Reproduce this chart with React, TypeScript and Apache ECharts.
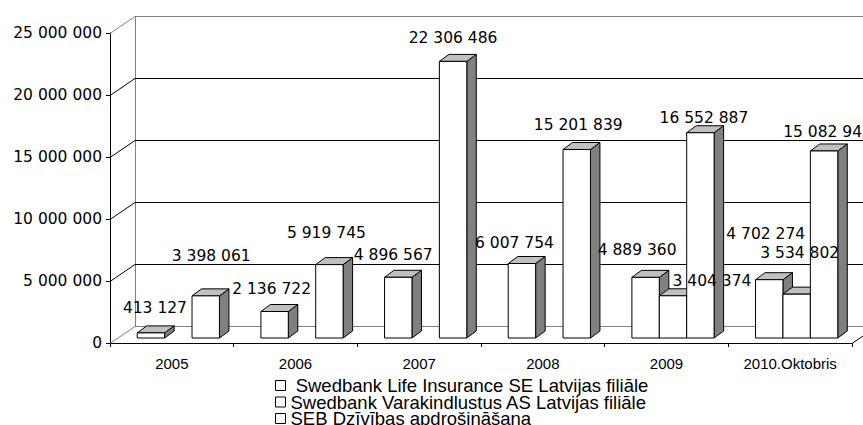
import React, { useEffect, useRef } from 'react';
import * as echarts from 'echarts';

const categories = ['2005', '2006', '2007', '2008', '2009', '2010.Oktobris'];
const seriesNames = [
  ' Swedbank Life Insurance SE Latvijas filiāle',
  'Swedbank Varakindlustus AS Latvijas filiāle',
  'SEB Dzīvības apdrošināšana',
];
const swedbankLife: (number | null)[] = [413127, 2136722, 4896567, 6007754, 4889360, 4702274];
const swedbankVara: (number | null)[] = [null, null, null, null, 3404374, 3534802];
const sebDzivibas: (number | null)[] = [3398061, 5919745, 22306486, 15201839, 16552887, 15082942];
const yTicks = [0, 5000000, 10000000, 15000000, 20000000, 25000000];

// label nudges (px) relative to bar front centre / top, per series and category
const nudgeLife = [[4, -25], [-3, -22.5], [-5, -22], [-7.5, -20.5], [-8.5, -27], [-3.5, -46]];
const nudgeVara = [null, null, null, null, [39, -15], [3, -41]];
const nudgeSeb = [[5.5, -40], [-3, -31.6], [0, -23], [1.5, -24.5], [3.5, -14.4], [3.5, -19.3]];

const allValues = [swedbankLife, swedbankVara, sebDzivibas];
const allNudges = [nudgeLife, nudgeVara, nudgeSeb];

// 3D geometry
const WALL_DX = 25;
const WALL_DY = -17;
const SHIFT_X = 6.5;
const SHIFT_Y = -5;
const DEPTH_X = 9.5;
const DEPTH_Y = -7;
const BAR_FRAC = 0.2216;
const Y_MAX = 25000000;

const fmt = (v: number) => String(v).replace(/\B(?=(\d{3})+(?!\d))/g, ' ');

function barGeom(api: any, i: number, v: number, slot: number) {
  const base = api.coord([i, 0]);
  const top = api.coord([i, v]);
  const band = api.size([1, 0])[0];
  const bw = band * BAR_FRAC;
  const x0 = base[0] - 1.5 * bw + slot * bw + SHIFT_X;
  const x1 = x0 + bw;
  const yB = base[1] + SHIFT_Y;
  const yT = top[1] + SHIFT_Y;
  return { x0, x1, yB, yT, bw };
}

function makeBarRender(slot: number) {
  return (params: any, api: any) => {
    const v = api.value(1);
    if (v == null || isNaN(v)) return null;
    const i = api.value(0);
    const { x0, x1, yB, yT, bw } = barGeom(api, i, v, slot);
    const dx = DEPTH_X;
    const dy = DEPTH_Y;
    return {
      type: 'group',
      children: [
        {
          type: 'polygon',
          shape: { points: [[x1, yB], [x1 + dx, yB + dy], [x1 + dx, yT + dy], [x1, yT]] },
          style: { fill: '#808080', stroke: '#000', lineWidth: 1 },
        },
        {
          type: 'polygon',
          shape: { points: [[x0, yT], [x0 + dx, yT + dy], [x1 + dx, yT + dy], [x1, yT]] },
          style: { fill: '#c0c0c0', stroke: '#000', lineWidth: 1 },
        },
        {
          type: 'rect',
          shape: { x: x0, y: yT, width: bw, height: yB - yT },
          style: { fill: '#fff', stroke: '#000', lineWidth: 1 },
        },
      ],
    };
  };
}

function wallRender(params: any, api: any) {
  const cs = params.coordSys;
  const x0 = cs.x;
  const x1 = cs.x + cs.width;
  const v = api.value(1);
  const y = Math.round(api.coord([0, v])[1]) + 0.5;
  const yTop = Math.round(api.coord([0, Y_MAX])[1]) + 0.5;
  const edge = v === 0 || v === Y_MAX;
  const col = edge ? '#808080' : '#000';
  const children: any[] = [
    { type: 'line', shape: { x1: x0, y1: y, x2: x0 + WALL_DX, y2: y + WALL_DY }, style: { stroke: col, lineWidth: 1 } },
    { type: 'line', shape: { x1: x0 + WALL_DX, y1: y + WALL_DY, x2: x1 + WALL_DX, y2: y + WALL_DY }, style: { stroke: col, lineWidth: 1 } },
  ];
  if (v === 0) {
    children.push({
      type: 'line',
      shape: { x1: x0 + WALL_DX + 0.5, y1: y + WALL_DY, x2: x0 + WALL_DX + 0.5, y2: yTop + WALL_DY },
      style: { stroke: '#808080', lineWidth: 1 },
    });
    children.push({
      type: 'line',
      shape: { x1: x1, y1: y, x2: x1 + WALL_DX, y2: y + WALL_DY },
      style: { stroke: '#000', lineWidth: 1 },
    });
  }
  return { type: 'group', children };
}

function labelRender(params: any, api: any) {
  const i = api.value(0);
  const v = api.value(1);
  const s = api.value(2);
  const { x0, x1, yT } = barGeom(api, i, v, s);
  const n = (allNudges[s][i] as number[] | null) || [0, -24];
  return {
    type: 'text',
    x: (x0 + x1) / 2 + n[0],
    y: yT + n[1],
    style: {
      text: fmt(v),
      fill: '#000',
      fontSize: 15.5,
      fontFamily: '"DejaVu Sans", sans-serif',
      align: 'center',
      verticalAlign: 'middle',
    },
  };
}

const labelData: number[][] = [];
allValues.forEach((vals, s) => {
  vals.forEach((v, i) => {
    if (v != null) labelData.push([i, v, s]);
  });
});

export default function App() {
  const ref = useRef<HTMLDivElement>(null);
  useEffect(() => {
    const chart = echarts.init(ref.current!, undefined, { renderer: 'svg' });
    const barSeries = allValues.map((vals, s) => ({
      type: 'custom',
      name: seriesNames[s],
      z: 3,
      encode: { x: 0, y: 1 },
      data: vals.map((v, i) => [i, v]).filter((d) => d[1] != null),
      renderItem: makeBarRender(s),
    }));
    chart.setOption({
      animation: false,
      backgroundColor: '#fff',
      grid: { left: 110, right: 11, top: 33, bottom: 82, containLabel: false },
      legend: {
        orient: 'vertical',
        left: 275,
        top: 376,
        height: 120,
        padding: 0,
        itemWidth: 10,
        itemHeight: 10,
        itemGap: -2.5,
        icon: 'rect',
        selectedMode: false,
        data: seriesNames,
        itemStyle: { color: '#fff', borderColor: '#000', borderWidth: 1 },
        textStyle: { fontFamily: '"Liberation Sans", Arial, sans-serif', fontSize: 18.5, lineHeight: 15, color: '#000' },
      },
      xAxis: {
        type: 'category',
        data: categories,
        boundaryGap: true,
        axisLine: { show: true, lineStyle: { color: '#000', width: 1 } },
        axisTick: { show: true, length: 4, interval: 0, lineStyle: { color: '#000' } },
        axisLabel: {
          interval: 0,
          margin: 13,
          color: '#000',
          fontSize: 15,
          fontFamily: '"Liberation Sans", Arial, sans-serif',
        },
        splitLine: { show: false },
      },
      yAxis: {
        type: 'value',
        min: 0,
        max: Y_MAX,
        interval: 5000000,
        axisLine: { show: true, lineStyle: { color: '#000', width: 1 } },
        axisTick: { show: true, length: 4, lineStyle: { color: '#000' } },
        axisLabel: {
          margin: 8,
          color: '#000',
          fontSize: 15.5,
          fontFamily: '"DejaVu Sans", sans-serif',
          formatter: (v: number) => fmt(v),
        },
        splitLine: { show: false },
      },
      series: [
        {
          type: 'custom',
          name: 'walls',
          z: 1,
          silent: true,
          encode: { x: 0, y: 1 },
          data: yTicks.map((v) => [0, v]),
          renderItem: wallRender,
        },
        ...barSeries,
        {
          type: 'custom',
          name: 'labels',
          z: 6,
          silent: true,
          encode: { x: 0, y: 1 },
          data: labelData,
          renderItem: labelRender,
        },
      ],
    });
    return () => chart.dispose();
  }, []);
  return (
    <div
      ref={ref}
      style={{ position: 'absolute', left: 0, top: 0, width: 863, height: 425, background: '#fff' }}
    />
  );
}
